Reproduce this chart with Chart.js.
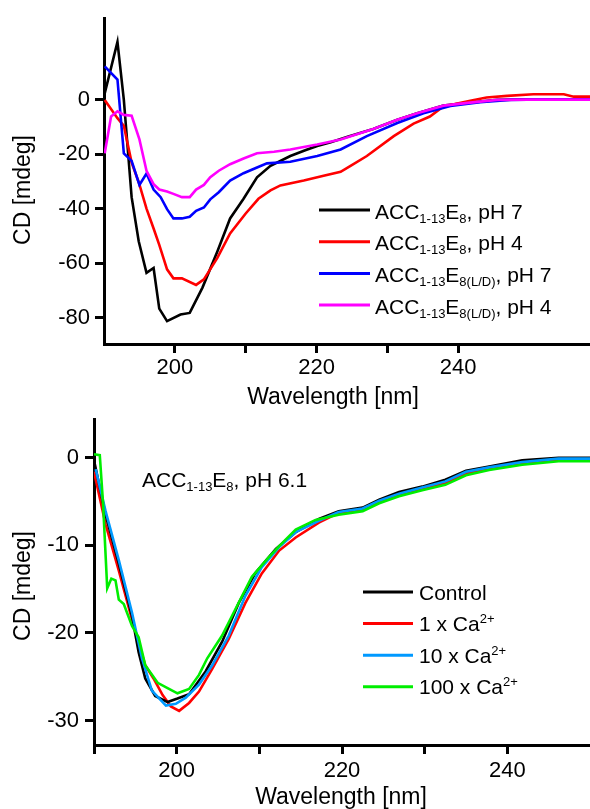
<!DOCTYPE html>
<html>
<head>
<meta charset="utf-8">
<script src="https://cdn.jsdelivr.net/npm/chart.js@4"></script>
<style>
  html, body { margin: 0; padding: 0; background: #fff; }
  #wrap { position: relative; width: 590px; height: 809px; overflow: hidden; }
  canvas { position: absolute; left: 0; }
</style>
</head>
<body>
<div id="wrap">
  <canvas id="c1" width="590" height="412" style="top:0px"></canvas>
  <canvas id="c2" width="590" height="409" style="top:400px"></canvas>
</div>
<script>
// ---------- Top panel data ----------
const e8ph7Wl = [190.1, 191.9, 192.8, 193.9, 194.9, 196.0, 197.0, 197.8, 198.9, 200.8, 202.1, 203.9, 206.0, 207.8, 209.7, 211.6, 213.5, 216.3, 218.5, 220.1, 222.0, 224.5, 228.0, 231.4, 234.2, 237.9, 241.7, 245.5, 250, 255, 258.6];
const e8ph7Cd = [2.3, 21.2, -0.1, -35.8, -52, -63.6, -61.8, -76.7, -81.3, -78.9, -78.3, -69, -55.7, -43.6, -36.4, -28.5, -24.3, -20.7, -18.5, -17, -15.6, -13.5, -10.8, -7.4, -5, -2.2, -1.1, -0.1, 0.1, 0.1, 0.1];

const e8ph4Wl = [190.1, 191.9, 192.8, 193.9, 194.9, 196.0, 197.0, 197.8, 198.9, 199.8, 201.0, 203.0, 204.1, 206.0, 207.8, 210.0, 211.8, 213.5, 214.9, 218.2, 221.0, 223.4, 224.8, 227.1, 230.9, 233.7, 236.0, 237.9, 241.7, 244.0, 246.9, 250.6, 254.9, 256.3, 258.6];
const e8ph4Cd = [-0.1, -6.8, -9.6, -23.1, -30.3, -40, -47.3, -53.3, -62.3, -65.6, -65.6, -68, -66, -58.1, -49.1, -41.8, -36.4, -33.3, -31.5, -29.7, -27.9, -26.5, -24.3, -20.7, -13.4, -8.8, -6.2, -2.5, -0.4, 0.8, 1.4, 2, 2, 1.1, 1.1];

const ldph7Wl = [190.1, 191.9, 192.8, 193.9, 195.0, 196.0, 197.0, 198.0, 198.9, 199.8, 201.0, 202.1, 203.0, 204.1, 205.0, 206.2, 207.8, 209.7, 211.6, 213.0, 216.3, 220.1, 223.4, 227.1, 231.4, 235.1, 238.9, 243.1, 247.3, 252, 258.6];
const ldph7Cd = [12.2, 7.4, -19.7, -22.5, -31.3, -27.1, -33, -35.8, -40.2, -43.6, -43.6, -43, -40.8, -39.6, -36.6, -34, -29.7, -27, -24.9, -23.4, -22.8, -20.7, -18.3, -13.4, -8.6, -5, -2.3, -0.9, -0.1, 0.1, 0.1];

const ldph4Wl = [190.1, 191.0, 191.9, 192.8, 193.9, 195.0, 196.0, 197.0, 197.8, 198.9, 199.8, 201.0, 202.1, 203.0, 204.1, 205.0, 206.2, 207.8, 209.7, 211.6, 214.0, 216.3, 220.1, 223.4, 228.0, 231.4, 234.2, 237.9, 241.7, 245.5, 250, 258.6];
const ldph4Cd = [-19.7, -6.2, -4.3, -5.6, -5.9, -14.6, -26.1, -31, -33, -33.7, -34.6, -35.8, -35.8, -33, -31.3, -28.5, -26.1, -23.7, -21.6, -19.7, -19.1, -18.3, -16.5, -14.6, -10.8, -7.4, -5, -2.2, -1.1, -0.1, 0, 0];

const topXTicks = [200, 210, 220, 230, 240];
const topXLabels = [200, 220, 240];
const topYTicks = [-80, -60, -40, -20, 0];

// ---------- Bottom panel data ----------
const ctrlWl = [190, 191.4, 193, 194.6, 195.4, 196.2, 197.4, 198.9, 200.1, 201.5, 203.5, 205.5, 207.5, 209.5, 212, 214.4, 217.2, 219.6, 222.5, 224.5, 226.9, 229.7, 232.5, 235, 237.8, 241.8, 246.2, 250];
const ctrlCd = [-0.3, -6.5, -12.1, -18.1, -22.2, -25.2, -27.2, -27.9, -27.5, -27, -24.4, -21, -16.6, -13.2, -10.4, -8.5, -7, -6.1, -5.7, -4.8, -3.9, -3.3, -2.5, -1.5, -1, -0.3, 0, 0];

const ca1Wl = [190, 191.4, 193, 194.6, 196.2, 197.2, 198.3, 199.3, 200.3, 201.5, 202.7, 204.3, 206.3, 208.3, 210.3, 212.4, 214.4, 217.2, 219.6, 222.5, 224.5, 226.9, 229.7, 232.5, 235, 237.8, 241.8, 246.2, 250];
const ca1Cd = [-1.6, -7.6, -12.9, -18.5, -23.7, -25.2, -27.1, -28.4, -28.9, -28, -26.7, -24.1, -20.7, -16.6, -13.2, -10.6, -9.1, -7.4, -6.3, -6.0, -5.1, -4.3, -3.6, -2.9, -1.8, -1.3, -0.6, -0.3, -0.3];

const ca10Wl = [190.2, 191.4, 193, 194.6, 195.8, 197, 198.7, 199.9, 201.1, 202.7, 204.3, 206.3, 208.3, 210.3, 212.4, 214.4, 217.2, 219.6, 222.5, 224.5, 226.9, 229.7, 232.5, 235, 237.8, 241.8, 246.2, 250];
const ca10Cd = [-1.3, -6.1, -11.7, -17.7, -22.9, -26.6, -28.3, -28.1, -27.4, -25.9, -23.7, -20.3, -15.8, -12.5, -10.2, -8.5, -7.2, -6.2, -5.8, -4.9, -4.1, -3.4, -2.7, -1.6, -1.1, -0.5, -0.1, -0.1];

const ca100Wl = [190, 190.7, 191.1, 191.6, 192.1, 192.6, 193, 193.6, 194.6, 195.4, 196.2, 197.7, 198.9, 200.1, 201.5, 202.7, 203.7, 205.5, 207.1, 209.1, 211.1, 212.4, 214.4, 216.8, 219.6, 222.5, 224.5, 226.9, 229.7, 232.5, 235, 237.8, 241.8, 246.2, 250];
const ca100Cd = [0.4, 0.3, -5.3, -14.9, -13.8, -14, -16.2, -16.7, -19.2, -20.5, -23.7, -25.7, -26.3, -26.9, -26.4, -24.8, -22.9, -20.3, -17.3, -13.6, -11.4, -10.1, -8.2, -7.1, -6.5, -6.1, -5.2, -4.4, -3.7, -3.1, -2.0, -1.4, -0.8, -0.4, -0.4];

const botXTicks = [190, 200, 210, 220, 230, 240];
const botXLabels = [200, 220, 240];
const botYTicks = [-30, -20, -10, 0];

// ---------- helpers ----------
const FONT = "'Liberation Sans', Arial, sans-serif";
const pts = (wl, cd) => wl.map((x, i) => ({ x: x, y: cd[i] }));

function ds(label, wl, cd, color, order) {
  return { label, data: pts(wl, cd), borderColor: color, backgroundColor: color,
           borderWidth: 2.6, pointRadius: 0, tension: 0, fill: false, order: order };
}

// draw text made of segments [text, size, dy]
function richText(ctx, x, y, segs) {
  let cx = x;
  ctx.textAlign = 'left';
  ctx.textBaseline = 'alphabetic';
  ctx.fillStyle = '#000';
  for (const [t, size, dy] of segs) {
    ctx.font = size + 'px ' + FONT;
    ctx.fillText(t, cx, y + dy);
    cx += ctx.measureText(t).width;
  }
}

function axisCommon(min, max, tickVals, labelVals, pad, fitSize, isX, extra) {
  return Object.assign({
    type: 'linear', min, max,
    afterBuildTicks: s => { s.ticks = tickVals.map(v => ({ value: v })); },
    afterFit: s => { if (isX) s.height = fitSize; else s.width = fitSize; },
    border: { display: true, color: '#000', width: 3 },
    grid: { display: true, drawOnChartArea: false, drawTicks: true, tickLength: 9,
            tickWidth: 3, tickColor: '#000' },
    ticks: {
      autoSkip: false, maxRotation: 0, minRotation: 0, padding: pad, color: '#000',
      font: { family: FONT, size: 22 },
      callback: v => (labelVals.includes(v) ? String(v) : '')
    }
  }, extra || {});
}

function titlesPlugin(cfg) {
  return {
    id: 'titles',
    afterDraw(chart) {
      const ctx = chart.ctx;
      ctx.save();
      ctx.fillStyle = '#000';
      ctx.font = '23px ' + FONT;
      ctx.textAlign = 'center';
      ctx.textBaseline = 'middle';
      ctx.fillText('Wavelength [nm]', cfg.xTitle[0], cfg.xTitle[1]);
      ctx.save();
      ctx.translate(cfg.yTitle[0], cfg.yTitle[1]);
      ctx.rotate(-Math.PI / 2);
      ctx.fillText('CD [mdeg]', 0, 0);
      ctx.restore();
      // legend
      const L = cfg.legend;
      chart.data.datasets.forEach((d, i) => {
        const y = L.y0 + i * L.dy;
        ctx.strokeStyle = d.borderColor;
        ctx.lineWidth = 3;
        ctx.beginPath();
        ctx.moveTo(L.x1, y);
        ctx.lineTo(L.x2, y);
        ctx.stroke();
        richText(ctx, L.tx, y + L.baseOff, L.texts[i]);
      });
      if (cfg.note) richText(ctx, cfg.note.x, cfg.note.y, cfg.note.segs);
      ctx.restore();
    }
  };
}

Chart.defaults.font.family = FONT;
Chart.defaults.color = '#000';

// ---------- Top chart ----------
const topLegendTexts = [
  [['ACC', 21, 0], ['1-13', 13, 4], ['E', 21, 0], ['8', 13, 4], [', pH 7', 21, 0]],
  [['ACC', 21, 0], ['1-13', 13, 4], ['E', 21, 0], ['8', 13, 4], [', pH 4', 21, 0]],
  [['ACC', 21, 0], ['1-13', 13, 4], ['E', 21, 0], ['8(L/D)', 13, 4], [', pH 7', 21, 0]],
  [['ACC', 21, 0], ['1-13', 13, 4], ['E', 21, 0], ['8(L/D)', 13, 4], [', pH 4', 21, 0]]
];

new Chart(document.getElementById('c1'), {
  type: 'line',
  data: {
    datasets: [
      ds('ACC1-13E8, pH 7', e8ph7Wl, e8ph7Cd, '#000000', 3),
      ds('ACC1-13E8, pH 4', e8ph4Wl, e8ph4Cd, '#ff0000', 2),
      ds('ACC1-13E8(L/D), pH 7', ldph7Wl, ldph7Cd, '#0000ff', 1),
      ds('ACC1-13E8(L/D), pH 4', ldph4Wl, ldph4Cd, '#ff00ff', 0)
    ]
  },
  options: {
    responsive: false, animation: false, devicePixelRatio: 1,
    layout: { padding: { top: 14, left: 0, right: 0, bottom: 0 } },
    plugins: { legend: { display: false }, tooltip: { enabled: false } },
    scales: {
      x: axisCommon(190, 258.6, topXTicks, topXLabels, 2, 68, true, { position: 'bottom' }),
      y: axisCommon(-89.7, 29.9, topYTicks, topYTicks, 5, 104, false, { position: 'left' })
    }
  },
  plugins: [titlesPlugin({
    xTitle: [333, 398], yTitle: [24, 190],
    legend: { x1: 319, x2: 370, tx: 375, y0: 210, dy: 31.7, baseOff: 8.5, texts: topLegendTexts }
  })]
});

// ---------- Bottom chart ----------
const botLegendTexts = [
  [['Control', 21, 0]],
  [['1 x Ca', 21, 0], ['2+', 13, -8]],
  [['10 x Ca', 21, 0], ['2+', 13, -8]],
  [['100 x Ca', 21, 0], ['2+', 13, -8]]
];

new Chart(document.getElementById('c2'), {
  type: 'line',
  data: {
    datasets: [
      ds('Control', ctrlWl, ctrlCd, '#000000', 2),
      ds('1 x Ca2+', ca1Wl, ca1Cd, '#ff0000', 3),
      ds('10 x Ca2+', ca10Wl, ca10Cd, '#0099ff', 1),
      ds('100 x Ca2+', ca100Wl, ca100Cd, '#00ee00', 0)
    ]
  },
  options: {
    responsive: false, animation: false, devicePixelRatio: 1,
    layout: { padding: { top: 13, left: 0, right: 0, bottom: 0 } },
    plugins: { legend: { display: false }, tooltip: { enabled: false } },
    scales: {
      x: axisCommon(190, 250, botXTicks, botXLabels, 4, 64, true, { position: 'bottom' }),
      y: axisCommon(-32.8, 4.4, botYTicks, botYTicks, 6, 94, false, { position: 'left' })
    }
  },
  plugins: [titlesPlugin({
    xTitle: [341, 398], yTitle: [24, 186],
    legend: { x1: 363, x2: 413, tx: 419, y0: 192, dy: 31.6, baseOff: 7.5, texts: botLegendTexts },
    note: { x: 142, y: 87, segs: [['ACC', 21, 0], ['1-13', 13, 4], ['E', 21, 0], ['8', 13, 4], [', pH 6.1', 21, 0]] }
  })]
});
</script>
</body>
</html>
